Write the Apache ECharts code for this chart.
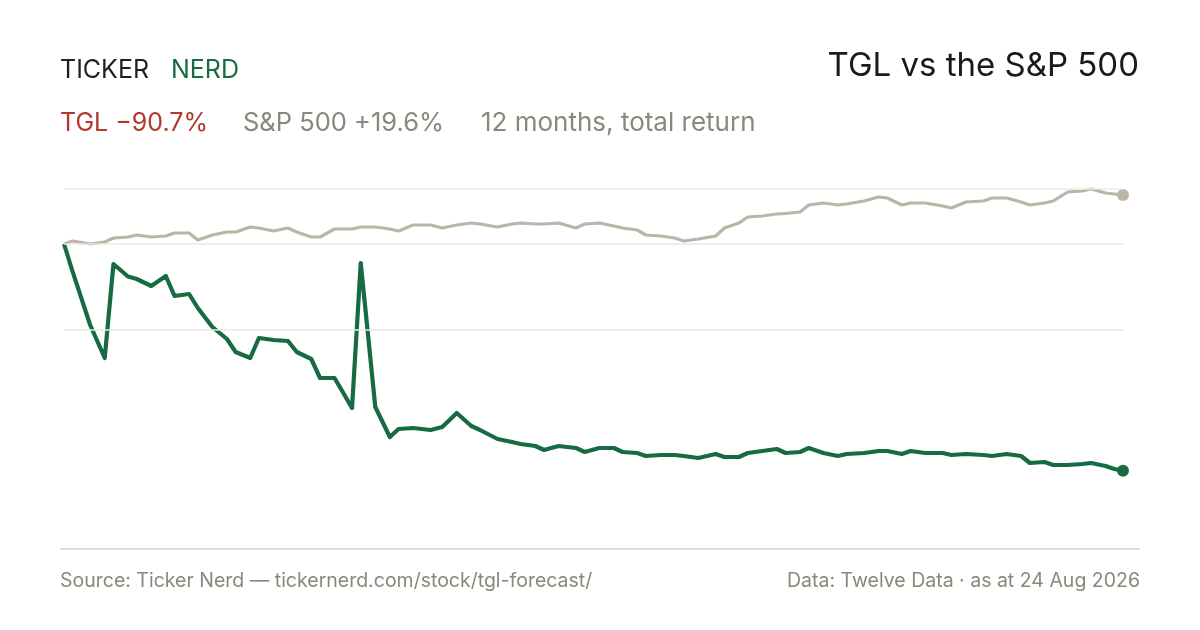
<!DOCTYPE html>
<html>
<head>
<meta charset="utf-8">
<title>TGL vs the S&amp;P 500</title>
<script src="https://cdn.jsdelivr.net/npm/echarts@6/dist/echarts.min.js"></script>
<style>
  html, body { margin: 0; padding: 0; background: #ffffff; }
  #tgl-chart { width: 1200px; height: 630px; }
</style>
</head>
<body>
<div id="tgl-chart"></div>
<script>
// every third trading day, 25 Aug 2025 -> 24 Aug 2026
const dates = [
    '2025-08-25','2025-08-28','2025-09-03','2025-09-08','2025-09-11','2025-09-16','2025-09-19','2025-09-24','2025-09-29',
    '2025-10-02','2025-10-07','2025-10-10','2025-10-15','2025-10-20','2025-10-23','2025-10-28','2025-10-31',
    '2025-11-05','2025-11-10','2025-11-13','2025-11-18','2025-11-21','2025-11-26',
    '2025-12-02','2025-12-05','2025-12-10','2025-12-15','2025-12-18','2025-12-23','2025-12-29',
    '2026-01-02','2026-01-07','2026-01-12','2026-01-15','2026-01-21','2026-01-26','2026-01-29',
    '2026-02-03','2026-02-06','2026-02-11','2026-02-17','2026-02-20','2026-02-25',
    '2026-03-02','2026-03-05','2026-03-10','2026-03-13','2026-03-18','2026-03-23','2026-03-26','2026-03-31',
    '2026-04-06','2026-04-09','2026-04-14','2026-04-17','2026-04-22','2026-04-27','2026-04-30',
    '2026-05-05','2026-05-08','2026-05-13','2026-05-18','2026-05-21','2026-05-27',
    '2026-06-01','2026-06-04','2026-06-09','2026-06-12','2026-06-17','2026-06-23','2026-06-26',
    '2026-07-01','2026-07-07','2026-07-10','2026-07-15','2026-07-20','2026-07-23','2026-07-28','2026-07-31',
    '2026-08-05','2026-08-10','2026-08-13','2026-08-18','2026-08-21','2026-08-24'
];

// total return since start, %
const tglReturn = [
    0, -11.2, -32.4, -45.6, -8.0, -13.0, -14.0, -16.8, -12.8,
    -20.8, -20.0, -25.6, -33.2, -38.0, -43.2, -45.6, -37.6,
    -38.4, -38.8, -43.2, -46.0, -53.6, -53.6,
    -65.6, -7.6, -65.2, -77.2, -74.0, -73.6, -74.4,
    -73.2, -67.6, -72.8, -74.4, -78.0, -79.2, -80.0,
    -80.8, -82.4, -80.8, -81.6, -83.2, -81.6,
    -81.6, -83.2, -83.6, -84.8, -84.4, -84.4, -84.8, -85.6,
    -84.0, -85.2, -85.2, -83.6, -82.8, -82.0, -83.6,
    -83.2, -81.6, -83.6, -84.8, -84.0, -83.6,
    -82.8, -82.8, -84.0, -82.8, -83.6, -83.6, -84.4,
    -84.0, -84.4, -84.8, -84.0, -84.8, -87.6, -87.2, -88.4,
    -88.4, -88.0, -87.6, -88.8, -90.0, -90.7
];

const spxReturn = [
    0, 1.2, 0.0, 0.8, 2.4, 2.8, 3.6, 2.8, 3.2,
    4.4, 4.4, 1.6, 3.6, 4.8, 4.8, 6.8, 6.4,
    5.2, 6.4, 4.8, 2.8, 2.8, 6.0,
    6.0, 6.8, 6.8, 6.0, 5.2, 7.6, 7.6,
    6.4, 7.6, 8.4, 8.0, 6.8, 8.0, 8.4,
    8.0, 8.0, 8.4, 6.4, 8.0, 8.4,
    7.2, 6.4, 5.6, 3.6, 3.2, 2.4, 1.2, 2.0,
    3.2, 6.4, 8.4, 10.8, 11.2, 12.0, 12.2,
    12.8, 15.6, 16.4, 15.6, 16.0, 17.2,
    18.8, 18.4, 15.6, 16.4, 16.4, 15.2, 14.4,
    16.8, 17.2, 18.4, 18.4, 16.8, 15.6, 16.4, 17.2,
    20.8, 21.2, 22.0, 20.4, 20.0, 19.6
];

const GREEN = '#176b43';
const SAND = '#bcb4a8';
const GREY_TEXT = '#8c877b';
const FONT = 'Inter, "Noto Sans", sans-serif';

const chart = echarts.init(document.getElementById('tgl-chart'));

const last = dates.length - 1;
const hi = Math.max(Math.max.apply(null, tglReturn), Math.max.apply(null, spxReturn));
const lo = Math.min(Math.min.apply(null, tglReturn), Math.min.apply(null, spxReturn));
// guide lines: top of range, start level, middle of range
const guides = [hi, 0, (hi + lo) / 2];

const option = {
    animation: false,
    backgroundColor: '#ffffff',
    grid: { left: 64, right: 77, top: 169, bottom: 81 },
    xAxis: {
        type: 'time',
        min: dates[0],
        max: dates[last],
        show: false
    },
    yAxis: {
        type: 'value',
        min: -122,
        max: 30,
        show: false,
        splitLine: { show: false }
    },
    graphic: [
        { type: 'text', x: 60, y: 70, style: { text: 'TICKER', fill: '#1f1f1f', font: '400 25px ' + FONT, verticalAlign: 'middle' } },
        { type: 'text', x: 171, y: 70, style: { text: 'NERD', fill: GREEN, font: '400 25px ' + FONT, verticalAlign: 'middle' } },
        { type: 'text', x: 1139, y: 66, style: { text: 'TGL vs the S&P 500', fill: '#1a1a1a', font: '400 33px ' + FONT, align: 'right', verticalAlign: 'middle' } },
        { type: 'text', x: 60, y: 123, style: { text: 'TGL \u221290.7%', fill: '#b2372c', font: '400 25px ' + FONT, verticalAlign: 'middle' } },
        { type: 'text', x: 243, y: 123, style: { text: 'S&P 500 +19.6%', fill: GREY_TEXT, font: '400 25.5px ' + FONT, verticalAlign: 'middle' } },
        { type: 'text', x: 481, y: 123, style: { text: '12 months, total return', fill: GREY_TEXT, font: '400 26px ' + FONT, verticalAlign: 'middle' } },
        { type: 'line', shape: { x1: 60, y1: 549, x2: 1140, y2: 549 }, style: { stroke: '#e2ded5', lineWidth: 2 } },
        { type: 'text', x: 60, y: 581, style: { text: 'Source: Ticker Nerd \u2014 tickernerd.com/stock/tgl-forecast/', fill: GREY_TEXT, font: '400 19.5px ' + FONT, verticalAlign: 'middle' } },
        { type: 'text', x: 1140, y: 581, style: { text: 'Data: Twelve Data \u00b7 as at 24 Aug 2026', fill: GREY_TEXT, font: '400 19.5px ' + FONT, align: 'right', verticalAlign: 'middle' } }
    ],
    series: [
        {
            name: 'guides',
            type: 'line',
            data: [],
            z: 1,
            silent: true,
            markLine: {
                silent: true,
                symbol: 'none',
                label: { show: false },
                lineStyle: { color: '#ebe8e1', width: 1.5, type: 'solid' },
                data: guides.map(function (v) { return { yAxis: v }; })
            }
        },
        {
            name: 'S&P 500',
            type: 'line',
            z: 2,
            symbol: 'none',
            data: dates.map(function (d, i) { return [d, spxReturn[i]]; }),
            lineStyle: { color: SAND, width: 3.2, join: 'round' }
        },
        {
            name: 'TGL',
            type: 'line',
            z: 3,
            symbol: 'none',
            data: dates.map(function (d, i) { return [d, tglReturn[i]]; }),
            lineStyle: { color: GREEN, width: 4.2, join: 'round' }
        },
        {
            name: 'S&P 500 end',
            type: 'scatter',
            z: 4,
            symbolSize: 12,
            itemStyle: { color: SAND, opacity: 1 },
            data: [[dates[last], spxReturn[last]]]
        },
        {
            name: 'TGL end',
            type: 'scatter',
            z: 4,
            symbolSize: 12,
            itemStyle: { color: GREEN, opacity: 1 },
            data: [[dates[last], tglReturn[last]]]
        }
    ]
};

chart.setOption(option);
</script>
</body>
</html>
